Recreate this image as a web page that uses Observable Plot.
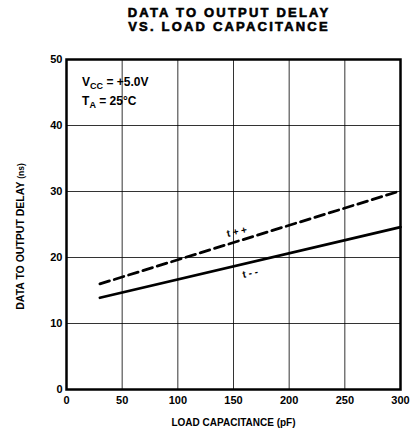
<!DOCTYPE html>
<html><head><meta charset="utf-8">
<script src="https://cdn.jsdelivr.net/npm/d3@7"></script>
<script src="https://cdn.jsdelivr.net/npm/@observablehq/plot@0.6"></script>
<style>
body{margin:0;background:#fff;font-family:"Liberation Sans",Arial,sans-serif;}
#wrap{position:relative;width:416px;height:438px;}
#title{position:absolute;left:21px;top:6px;width:416px;text-align:center;font-weight:bold;font-size:13px;letter-spacing:2.2px;line-height:14px;color:#000;-webkit-text-stroke:0.6px #000;}
#chart{position:absolute;left:0;top:40px;}
</style></head>
<body>
<div id="wrap">
<div id="title"><div>DATA TO OUTPUT DELAY</div><div>VS. LOAD CAPACITANCE</div></div>
<div id="chart"></div>
</div>
<script>
const capacitance = [30, 300];
const tPlusPlus = [16.0, 30.1];
const tMinusMinus = [13.9, 24.6];
const xTicks = [0, 50, 100, 150, 200, 250, 300];
const yTicks = [0, 10, 20, 30, 40, 50];
const xLabel = "LOAD CAPACITANCE (pF)";
const yLabel = "DATA TO OUTPUT DELAY (ns)";
const seriesLabels = [
  {x: 153, y: 23.9, text: "t + +"},
  {x: 165, y: 17.6, text: "t - -"}
];
const conditions = [
  {x: 14, y: 46.6, text: "VCC = +5.0V"},
  {x: 14, y: 43.7, text: "TA = 25°C"}
];

const rows = [];
capacitance.forEach((c, i) => {
  rows.push({c, v: tPlusPlus[i], s: "t++"});
  rows.push({c, v: tMinusMinus[i], s: "t--"});
});

const chart = Plot.plot({
  width: 416, height: 398,
  marginTop: 19, marginLeft: 66, marginRight: 16, marginBottom: 49,
  x: {domain: [0, 300]},
  y: {domain: [0, 50]},
  style: {fontFamily: "Liberation Sans, Arial, sans-serif", fontWeight: "bold", fontSize: "11px", color: "#000", background: "#fff"},
  marks: [
    Plot.gridX(xTicks, {stroke: "#000", strokeOpacity: 0.8, strokeWidth: 1}),
    Plot.gridY(yTicks, {stroke: "#000", strokeOpacity: 0.8, strokeWidth: 1}),
    Plot.axisX(xTicks, {tickSize: 0, tickPadding: 7, label: null, fontWeight: "bold"}),
    Plot.axisY(yTicks, {tickSize: 0, tickPadding: 4, label: null, fontWeight: "bold"}),
    Plot.text([xLabel], {frameAnchor: "bottom", dy: 36, text: d => d, fontSize: 10, fontWeight: "bold", letterSpacing: 0.5}),
    Plot.text([yLabel], {frameAnchor: "left", textAnchor: "middle", dx: -46, dy: 12, rotate: -90, text: d => d, fontSize: 10.5, fontWeight: "bold"}),
    Plot.frame({stroke: "#000", strokeWidth: 2.5}),
    Plot.line(rows.filter(d => d.s === "t++"), {x: "c", y: "v", stroke: "#000", strokeWidth: 2.8, strokeDasharray: "10,5"}),
    Plot.line(rows.filter(d => d.s === "t--"), {x: "c", y: "v", stroke: "#000", strokeWidth: 2.8}),
    Plot.text(seriesLabels, {x: "x", y: "y", text: "text", fontSize: 10, fontWeight: "bold", rotate: -12}),
    Plot.text(conditions, {x: "x", y: "y", text: "text", textAnchor: "start", fontSize: 12, fontWeight: "bold", letterSpacing: 0.4})
  ]
});
document.getElementById("chart").append(chart);

// subscripts and smaller units
d3.select(chart).selectAll("text").each(function() {
  const t = this.textContent;
  const el = d3.select(this);
  if (t === yLabel) {
    el.text(null);
    el.append("tspan").text("DATA TO OUTPUT DELAY ");
    el.append("tspan").attr("font-size", 8.5).text("(ns)");
  } else if (t === "VCC = +5.0V") {
    el.text(null);
    el.append("tspan").text("V");
    el.append("tspan").attr("font-size", 9).attr("dy", 3).text("CC");
    el.append("tspan").attr("dy", -3).text(" = +5.0V");
  } else if (t === "TA = 25°C") {
    el.text(null);
    el.append("tspan").text("T");
    el.append("tspan").attr("font-size", 9).attr("dy", 3).text("A");
    el.append("tspan").attr("dy", -3).text(" = 25°C");
  }
});
</script>
</body></html>
